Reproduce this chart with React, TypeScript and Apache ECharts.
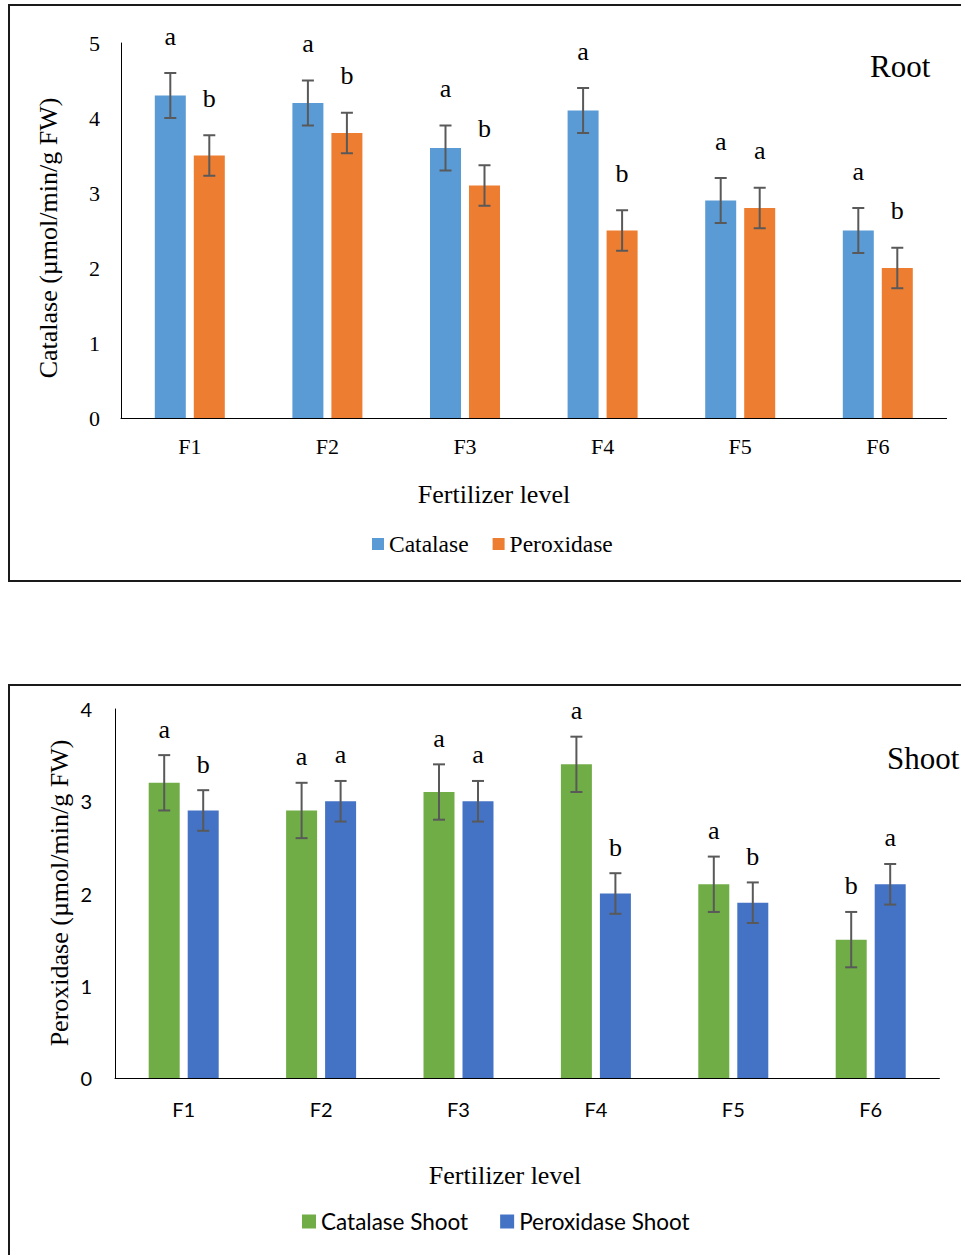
import React, { useEffect, useRef } from "react";
import * as echarts from "echarts";

const categories = ["F1", "F2", "F3", "F4", "F5", "F6"];

const rootCatalase = [4.3, 4.2, 3.6, 4.1, 2.9, 2.5];
const rootPeroxidase = [3.5, 3.8, 3.1, 2.5, 2.8, 2.0];
const rootCatalaseErr = [0.3, 0.3, 0.3, 0.3, 0.3, 0.3];
const rootPeroxidaseErr = [0.27, 0.27, 0.27, 0.27, 0.27, 0.27];
const rootCatalaseLetters = ["a", "a", "a", "a", "a", "a"];
const rootPeroxidaseLetters = ["b", "b", "b", "b", "a", "b"];

const shootCatalase = [3.2, 2.9, 3.1, 3.4, 2.1, 1.5];
const shootPeroxidase = [2.9, 3.0, 3.0, 2.0, 1.9, 2.1];
const shootCatalaseErr = [0.3, 0.3, 0.3, 0.3, 0.3, 0.3];
const shootPeroxidaseErr = [0.22, 0.22, 0.22, 0.22, 0.22, 0.22];
const shootCatalaseLetters = ["a", "a", "a", "a", "a", "b"];
const shootPeroxidaseLetters = ["b", "a", "a", "b", "b", "a"];

const rootTicks = [0, 1, 2, 3, 4, 5];
const shootTicks = [0, 1, 2, 3, 4];

const SERIF = "'Liberation Serif', 'Times New Roman', serif";
const SANS = "Lato, 'Open Sans', sans-serif";
const BAR_W = 31;
const BAR_GAP = 8;
const OFFSET = (BAR_W + BAR_GAP) / 2;

function errSeries(
  name: string,
  values: number[],
  errs: number[],
  letters: string[],
  offset: number,
  axisIndex: number,
  letterGap: number
) {
  return {
    type: "custom",
    name,
    xAxisIndex: axisIndex,
    yAxisIndex: axisIndex,
    z: 10,
    silent: true,
    data: values.map((v, i) => [i, v, errs[i]]),
    encode: { x: 0, y: 1 },
    renderItem: (params: any, api: any) => {
      const idx = api.value(0);
      const v = api.value(1);
      const e = api.value(2);
      const c = api.coord([idx, v]);
      const x = c[0] + offset;
      const top = api.coord([idx, v + e])[1];
      const bot = api.coord([idx, v - e])[1];
      const ls = { stroke: "#595959", lineWidth: 2 };
      return {
        type: "group",
        children: [
          { type: "line", shape: { x1: x, y1: top, x2: x, y2: bot }, style: ls },
          { type: "line", shape: { x1: x - 6, y1: top, x2: x + 6, y2: top }, style: ls },
          { type: "line", shape: { x1: x - 6, y1: bot, x2: x + 6, y2: bot }, style: ls },
          {
            type: "text",
            x,
            y: top - letterGap,
            style: {
              text: letters[params.dataIndex],
              fill: "#000",
              font: `26px ${SERIF}`,
              align: "center",
              verticalAlign: "middle",
              textAlign: "center",
              textVerticalAlign: "middle",
            },
          },
        ],
      };
    },
  };
}

function txt(text: string, x: number, y: number, font: string, align = "center", rotation = 0) {
  return {
    type: "text",
    x,
    y,
    rotation,
    style: {
      text,
      fill: "#000",
      font,
      align,
      verticalAlign: "middle",
      textAlign: align,
      textVerticalAlign: "middle",
    },
  };
}

export default function App() {
  const ref = useRef<HTMLDivElement>(null);
  useEffect(() => {
    if (!ref.current) return;
    const chart = echarts.init(ref.current, null, { renderer: "svg" });
    const axisLine = { show: true, lineStyle: { color: "#000", width: 1 } };
    const option: any = {
      animation: false,
      backgroundColor: "#fff",
      grid: [
        { left: 121, top: 43, width: 825.6, height: 375 },
        { left: 115, top: 709, width: 824.4, height: 369 },
      ],
      xAxis: [
        {
          type: "category",
          gridIndex: 0,
          data: categories,
          axisLine,
          axisTick: { show: false },
          axisLabel: { fontFamily: SERIF, fontSize: 22, color: "#000", margin: 17 },
        },
        {
          type: "category",
          gridIndex: 1,
          data: categories,
          axisLine,
          axisTick: { show: false },
          axisLabel: { fontFamily: SANS, fontSize: 20, color: "#000", margin: 21 },
        },
      ],
      yAxis: [
        {
          type: "value",
          gridIndex: 0,
          min: rootTicks[0],
          max: rootTicks[rootTicks.length - 1],
          interval: 1,
          axisLine,
          axisTick: { show: false },
          splitLine: { show: false },
          axisLabel: { fontFamily: SERIF, fontSize: 22, color: "#000", margin: 21 },
        },
        {
          type: "value",
          gridIndex: 1,
          min: shootTicks[0],
          max: shootTicks[shootTicks.length - 1],
          interval: 1,
          axisLine,
          axisTick: { show: false },
          splitLine: { show: false },
          axisLabel: { fontFamily: SANS, fontSize: 20, color: "#000", margin: 23 },
        },
      ],
      legend: [
        {
          data: ["Catalase", "Peroxidase"],
          left: 372,
          top: 532,
          icon: "rect",
          itemWidth: 12,
          itemHeight: 12,
          itemGap: 24,
          padding: 0,
          textStyle: { fontFamily: SERIF, fontSize: 23.5, color: "#000" },
        },
        {
          data: ["Catalase Shoot", "Peroxidase Shoot"],
          left: 302,
          top: 1210,
          icon: "rect",
          itemWidth: 14,
          itemHeight: 14,
          itemGap: 32,
          padding: 0,
          textStyle: { fontFamily: SANS, fontSize: 22.5, color: "#000" },
        },
      ],
      series: [
        {
          type: "bar",
          name: "Catalase",
          xAxisIndex: 0,
          yAxisIndex: 0,
          data: rootCatalase,
          barWidth: BAR_W,
          barGap: `${(BAR_GAP / BAR_W) * 100}%`,
          itemStyle: { color: "#5B9BD5" },
        },
        {
          type: "bar",
          name: "Peroxidase",
          xAxisIndex: 0,
          yAxisIndex: 0,
          data: rootPeroxidase,
          barWidth: BAR_W,
          barGap: `${(BAR_GAP / BAR_W) * 100}%`,
          itemStyle: { color: "#ED7D31" },
        },
        {
          type: "bar",
          name: "Catalase Shoot",
          xAxisIndex: 1,
          yAxisIndex: 1,
          data: shootCatalase,
          barWidth: BAR_W,
          barGap: `${(BAR_GAP / BAR_W) * 100}%`,
          itemStyle: { color: "#70AD47" },
        },
        {
          type: "bar",
          name: "Peroxidase Shoot",
          xAxisIndex: 1,
          yAxisIndex: 1,
          data: shootPeroxidase,
          barWidth: BAR_W,
          barGap: `${(BAR_GAP / BAR_W) * 100}%`,
          itemStyle: { color: "#4472C4" },
        },
        errSeries("rootCatErr", rootCatalase, rootCatalaseErr, rootCatalaseLetters, -OFFSET, 0, 37),
        errSeries("rootPerErr", rootPeroxidase, rootPeroxidaseErr, rootPeroxidaseLetters, OFFSET, 0, 37),
        errSeries("shootCatErr", shootCatalase, shootCatalaseErr, shootCatalaseLetters, -OFFSET, 1, 26),
        errSeries("shootPerErr", shootPeroxidase, shootPeroxidaseErr, shootPeroxidaseLetters, OFFSET, 1, 26),
      ],
      graphic: [
        {
          type: "rect",
          shape: { x: 9, y: 5, width: 1000, height: 576 },
          style: { fill: "none", stroke: "#1a1a1a", lineWidth: 2 },
          silent: true,
        },
        {
          type: "rect",
          shape: { x: 9, y: 685, width: 1000, height: 700 },
          style: { fill: "none", stroke: "#1a1a1a", lineWidth: 2 },
          silent: true,
        },
        txt("Catalase (µmol/min/g FW)", 48, 238, `26px ${SERIF}`, "center", Math.PI / 2),
        txt("Fertilizer level", 494, 494, `26px ${SERIF}`),
        txt("Root", 870, 66, `31px ${SERIF}`, "left"),
        txt("Peroxidase (µmol/min/g FW)", 59, 893, `26px ${SERIF}`, "center", Math.PI / 2),
        txt("Fertilizer level", 505, 1175, `26px ${SERIF}`),
        txt("Shoot", 887, 758, `31px ${SERIF}`, "left"),
      ],
    };
    chart.setOption(option);
    return () => chart.dispose();
  }, []);
  return (
    <div
      ref={ref}
      style={{ position: "absolute", left: 0, top: 0, width: 961, height: 1255 }}
    />
  );
}
